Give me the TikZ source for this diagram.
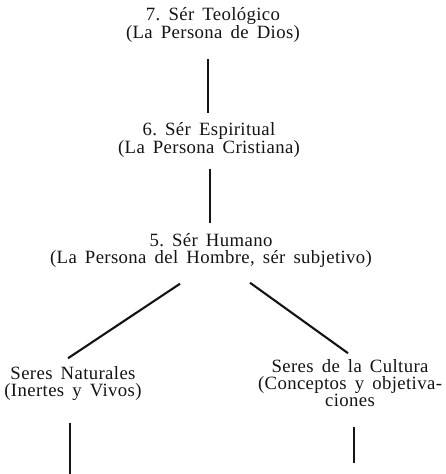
\documentclass[tikz,border=0pt]{standalone}
\usepackage{fontspec}
\setmainfont{Liberation Serif}[LetterSpace=2, WordSpace=1.6]
\usetikzlibrary{calc}
\definecolor{ink}{HTML}{141414}
\tikzset{
  lvl/.style={align=center, text=ink, inner sep=0pt,
    font=\fontsize{16}{14.5}\selectfont},
  link/.style={draw=ink, line width=1.8pt, line cap=butt}
}

\begin{document}
\begin{tikzpicture}[x=0.03cm, y=-0.03cm]
  \useasboundingbox (0,0) rectangle (445,474);

  % levels
  \node[lvl] (n7) at (213,25)  {7.\ Sér Teológico\\(La Persona de Dios)};
  \node[lvl] (n6) at (209,140) {6.\ Sér Espiritual\\(La Persona Cristiana)};
  \node[lvl] (n5) at (211,250) {5.\ Sér Humano\\(La Persona del Hombre, sér subjetivo)};
  \node[lvl] (nat)  at (73,384)  {Seres Naturales\\(Inertes y Vivos)};
  \node[lvl] (cult) at (350,383) {Seres de la Cultura\\(Conceptos y objetiva-\\ciones};

  \coordinate (natend)  at (70,474);
  \coordinate (cultend) at (354,463);

  \draw[link] ($(n7.south)+(-5,16)$) -- ($(n6.north)+(-1,-9)$);
  \draw[link] ($(n6.south)+(1,11)$) -- ($(n5.north)+(-1,-9.5)$);
  \draw[link] ($(n5.south)+(-31,16.5)$) -- ($(nat.north)+(-5,-8.5)$);
  \draw[link] ($(n5.south)+(39,15.5)$) -- ($(cult.north)+(-2,-6)$);
  \draw[link] ($(nat.south)+(-3,21.5)$) -- (natend);
  \draw[link] ($(cult.south)+(4,20)$) -- (cultend);
\end{tikzpicture}
\end{document}
